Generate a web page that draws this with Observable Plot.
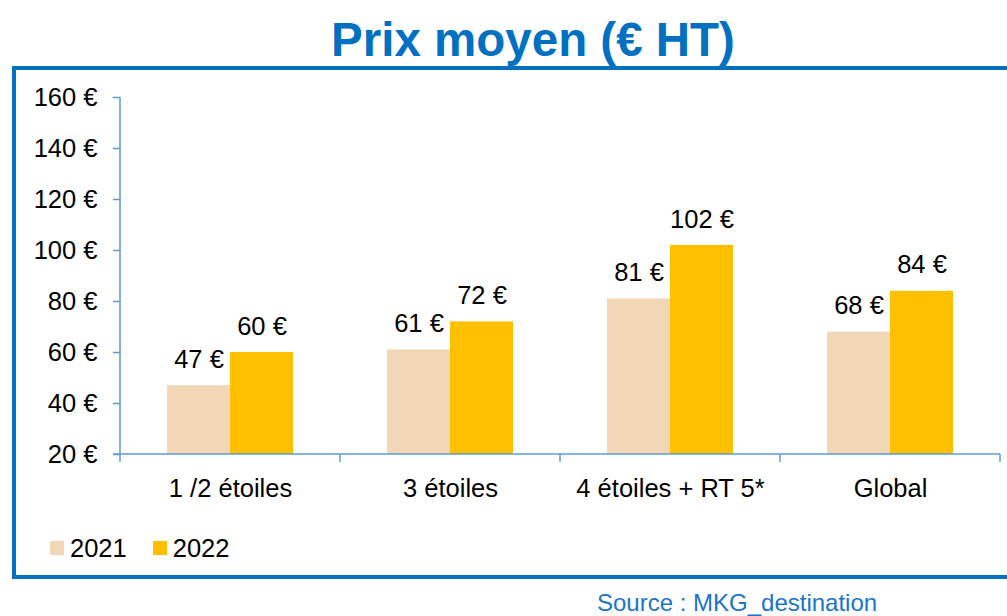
<!DOCTYPE html>
<html>
<head>
<meta charset="utf-8">
<script src="https://cdn.jsdelivr.net/npm/d3@7"></script>
<script src="https://cdn.jsdelivr.net/npm/@observablehq/plot@0.6"></script>
<style>
  html, body { margin: 0; padding: 0; background: #fff; }
  body { width: 1007px; height: 616px; position: relative; overflow: hidden; font-family: "Liberation Sans", Arial, sans-serif; }
  #title { position: absolute; left: 0; width: 1066px; top: 16px; text-align: center; font-weight: bold; font-size: 47.5px; line-height: 47.5px; color: #0070C0; }
  #frame { position: absolute; left: 12px; top: 66px; width: 1020px; height: 513px; border: 4px solid #0070C0; box-sizing: border-box; }
  #chart { position: absolute; left: 0; top: 70px; }
  #legend { position: absolute; left: 50px; top: 534px; font-size: 25.5px; line-height: 28px; color: #000; display: flex; align-items: center; }
  .item { display: flex; align-items: center; margin-right: 26px; }
  .sw { width: 14px; height: 14px; margin-right: 6px; }
  #source { position: absolute; left: 597px; top: 590px; font-size: 24px; line-height: 26px; color: #1A75C8; }
</style>
</head>
<body>
<div id="title">Prix moyen (€ HT)</div>
<div id="frame"></div>
<div id="chart"></div>
<div id="legend"></div>
<div id="source">Source : MKG_destination</div>
<script>
const categories = ["1 /2 étoiles", "3 étoiles", "4 étoiles + RT 5*", "Global"];
const values2021 = [47, 61, 81, 68];
const values2022 = [60, 72, 102, 84];
const years = ["2021", "2022"];
const colors = ["#F1D7B6", "#FFC000"];
const yTicks = [20, 40, 60, 80, 100, 120, 140, 160];

const axisColor = "#5B9BD5";
const d2021 = categories.map((c, i) => ({cat: c, v: values2021[i]}));
const d2022 = categories.map((c, i) => ({cat: c, v: values2022[i]}));
const fmt = d => `${d} €`;

const edges = (index, scales, values, dims) => {
  const g = d3.create("svg:g").attr("stroke", axisColor).attr("stroke-width", 1.5).attr("fill", "none");
  const bw = typeof scales.x.bandwidth === "function" ? scales.x.bandwidth()
    : (dims.width - dims.marginLeft - dims.marginRight) / categories.length;
  const y0 = scales.y(20), yTop = scales.y(160);
  const xl = scales.x(categories[0]);
  g.append("line").attr("x1", xl).attr("x2", xl).attr("y1", yTop).attr("y2", y0 + 8);
  g.append("line").attr("x1", xl - 7).attr("x2", scales.x(categories[categories.length - 1]) + bw).attr("y1", y0).attr("y2", y0);
  categories.forEach(c => {
    const x2 = scales.x(c) + bw;
    g.append("line").attr("x1", x2).attr("x2", x2).attr("y1", y0).attr("y2", y0 + 8);
  });
  return g.node();
};

const plot = Plot.plot({
  width: 1007,
  height: 444,
  marginLeft: 120,
  marginRight: 7,
  marginTop: 27,
  marginBottom: 60,
  style: {fontFamily: "Liberation Sans, Arial, sans-serif", fontSize: "25.5px", color: "#000", background: "transparent"},
  x: {domain: categories, padding: 0, axis: null, label: null},
  y: {domain: [20, 160], axis: null, label: null},
  marks: [
    Plot.barY(d2021, {x: "cat", y1: () => 20, y2: "v", fill: colors[0], insetLeft: 47, insetRight: 110}),
    Plot.barY(d2022, {x: "cat", y1: () => 20, y2: "v", fill: colors[1], insetLeft: 110, insetRight: 47}),
    Plot.text(d2021, {x: "cat", y: "v", text: d => fmt(d.v), dx: -31.5, dy: -26, fontSize: 25.5, fill: "#000"}),
    Plot.text(d2022, {x: "cat", y: "v", text: d => fmt(d.v), dx: 31.5, dy: -26, fontSize: 25.5, fill: "#000"}),
    Plot.axisY({ticks: yTicks, tickSize: 7, tickPadding: 16, tickFormat: fmt, fontSize: 25.5, stroke: axisColor, fill: "#000", strokeWidth: 1.5, strokeOpacity: 1, label: null}),
    Plot.axisX({tickSize: 0, tickPadding: 24, fontSize: 25.5, fill: "#000", label: null}),
    edges
  ]
});
document.getElementById("chart").appendChild(plot);

const legend = document.getElementById("legend");
years.forEach((y, i) => {
  const it = document.createElement("div");
  it.className = "item";
  const sw = document.createElement("div");
  sw.className = "sw";
  sw.style.background = colors[i];
  const t = document.createElement("span");
  t.textContent = y;
  it.appendChild(sw); it.appendChild(t);
  legend.appendChild(it);
});
</script>
</body>
</html>
